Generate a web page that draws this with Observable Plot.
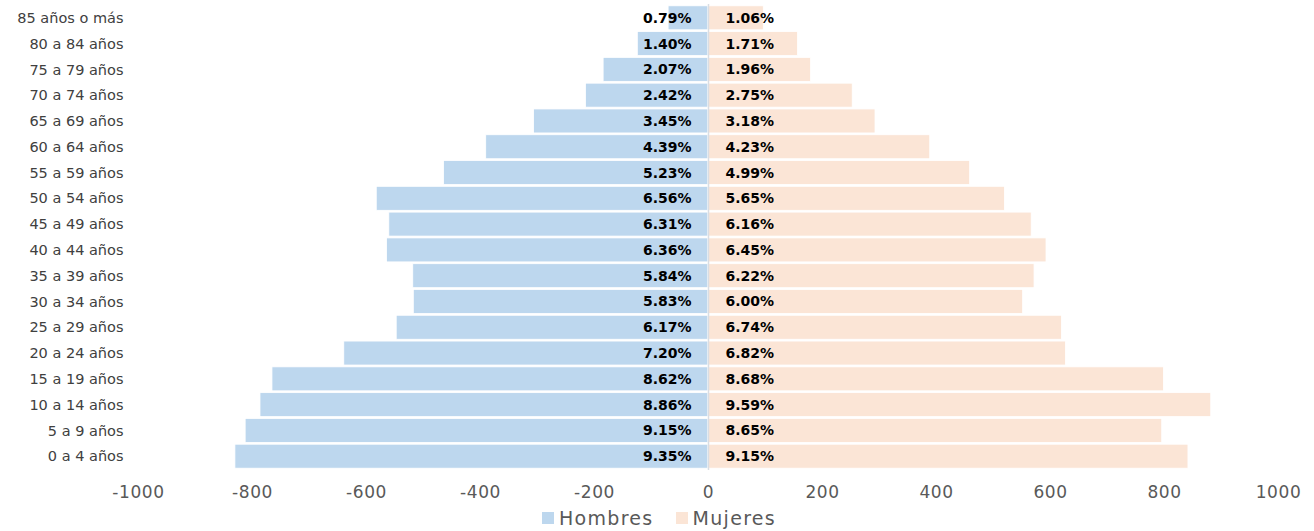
<!DOCTYPE html>
<html>
<head>
<meta charset="utf-8">
<script src="https://cdn.jsdelivr.net/npm/d3@7"></script>
<script src="https://cdn.jsdelivr.net/npm/@observablehq/plot@0.6"></script>
<style>
  body { margin: 0; background: #fff; font-family: "DejaVu Sans", sans-serif; overflow: hidden; }
  #chart { width: 1314px; }
  #chart svg { display: block; }
  #chart svg g[aria-label="x-axis tick label"] text { letter-spacing: 0.6px; }
  .legend { display: flex; justify-content: center; align-items: center; height: 26px; font-size: 19px; letter-spacing: 1.3px; color: #595959; margin-left: 4px; }
  .legend span.sw { display: inline-block; width: 12px; height: 12px; margin-right: 5px; }
  .legend .item { display: flex; align-items: center; margin: 0 11px; }
</style>
</head>
<body>
<div id="chart"></div>
<script>
const ageGroups = ["85 años o más","80 a 84 años","75 a 79 años","70 a 74 años","65 a 69 años","60 a 64 años","55 a 59 años","50 a 54 años","45 a 49 años","40 a 44 años","35 a 39 años","30 a 34 años","25 a 29 años","20 a 24 años","15 a 19 años","10 a 14 años","5 a 9 años","0 a 4 años"];
const hombres = [70, 124, 184, 215, 306, 390, 464, 582, 560, 564, 518, 517, 547, 639, 765, 786, 812, 830];
const mujeres = [97, 157, 180, 253, 293, 389, 459, 520, 567, 593, 572, 552, 620, 627, 799, 882, 796, 842];
const hombresPct = ["0.79%","1.40%","2.07%","2.42%","3.45%","4.39%","5.23%","6.56%","6.31%","6.36%","5.84%","5.83%","6.17%","7.20%","8.62%","8.86%","9.15%","9.35%"];
const mujeresPct = ["1.06%","1.71%","1.96%","2.75%","3.18%","4.23%","4.99%","5.65%","6.16%","6.45%","6.22%","6.00%","6.74%","6.82%","8.68%","9.59%","8.65%","9.15%"];
const xTicks = [-1000,-800,-600,-400,-200,0,200,400,600,800,1000];
const colorH = "#BDD7EE", colorM = "#FBE5D6";

const rows = ageGroups.map((g, i) => ({g, h: -hombres[i], m: mujeres[i], hp: hombresPct[i], mp: mujeresPct[i]}));

const chart = Plot.plot({
  width: 1314,
  height: 505,
  marginLeft: 138,
  marginRight: 36,
  marginTop: 4,
  marginBottom: 35,
  style: {fontFamily: "'DejaVu Sans', sans-serif", background: "#fff"},
  x: {domain: [-1000, 1000], ticks: xTicks, label: null},
  y: {domain: ageGroups, padding: 0.07, round: false, label: null},
  marks: [
    Plot.barX(rows, {y: "g", x: "h", fill: colorH, stroke: "#fff", strokeWidth: 0.8}),
    Plot.barX(rows, {y: "g", x: "m", fill: colorM, stroke: "#fff", strokeWidth: 0.8}),
    Plot.ruleX([0], {stroke: "#d9dde3", strokeWidth: 1.5}),
    Plot.text(rows, {y: "g", x: 0, text: "hp", dx: -17, textAnchor: "end", fontWeight: "bold", fontSize: 14, fill: "#000"}),
    Plot.text(rows, {y: "g", x: 0, text: "mp", dx: 17, textAnchor: "start", fontWeight: "bold", fontSize: 14, fill: "#000"}),
    Plot.axisX({ticks: xTicks, tickSize: 0, tickPadding: 15, fontSize: 17, color: "#595959", label: null, tickFormat: d => String(d)}),
    Plot.axisY({tickSize: 0, tickPadding: 15, fontSize: 14.5, color: "#404040", label: null})
  ]
});
document.getElementById("chart").appendChild(chart);

const legend = document.createElement("div");
legend.className = "legend";
[["Hombres", colorH], ["Mujeres", colorM]].forEach(([name, c]) => {
  const item = document.createElement("div");
  item.className = "item";
  const sw = document.createElement("span");
  sw.className = "sw";
  sw.style.background = c;
  item.appendChild(sw);
  item.appendChild(document.createTextNode(name));
  legend.appendChild(item);
});
document.getElementById("chart").appendChild(legend);
</script>
</body>
</html>
